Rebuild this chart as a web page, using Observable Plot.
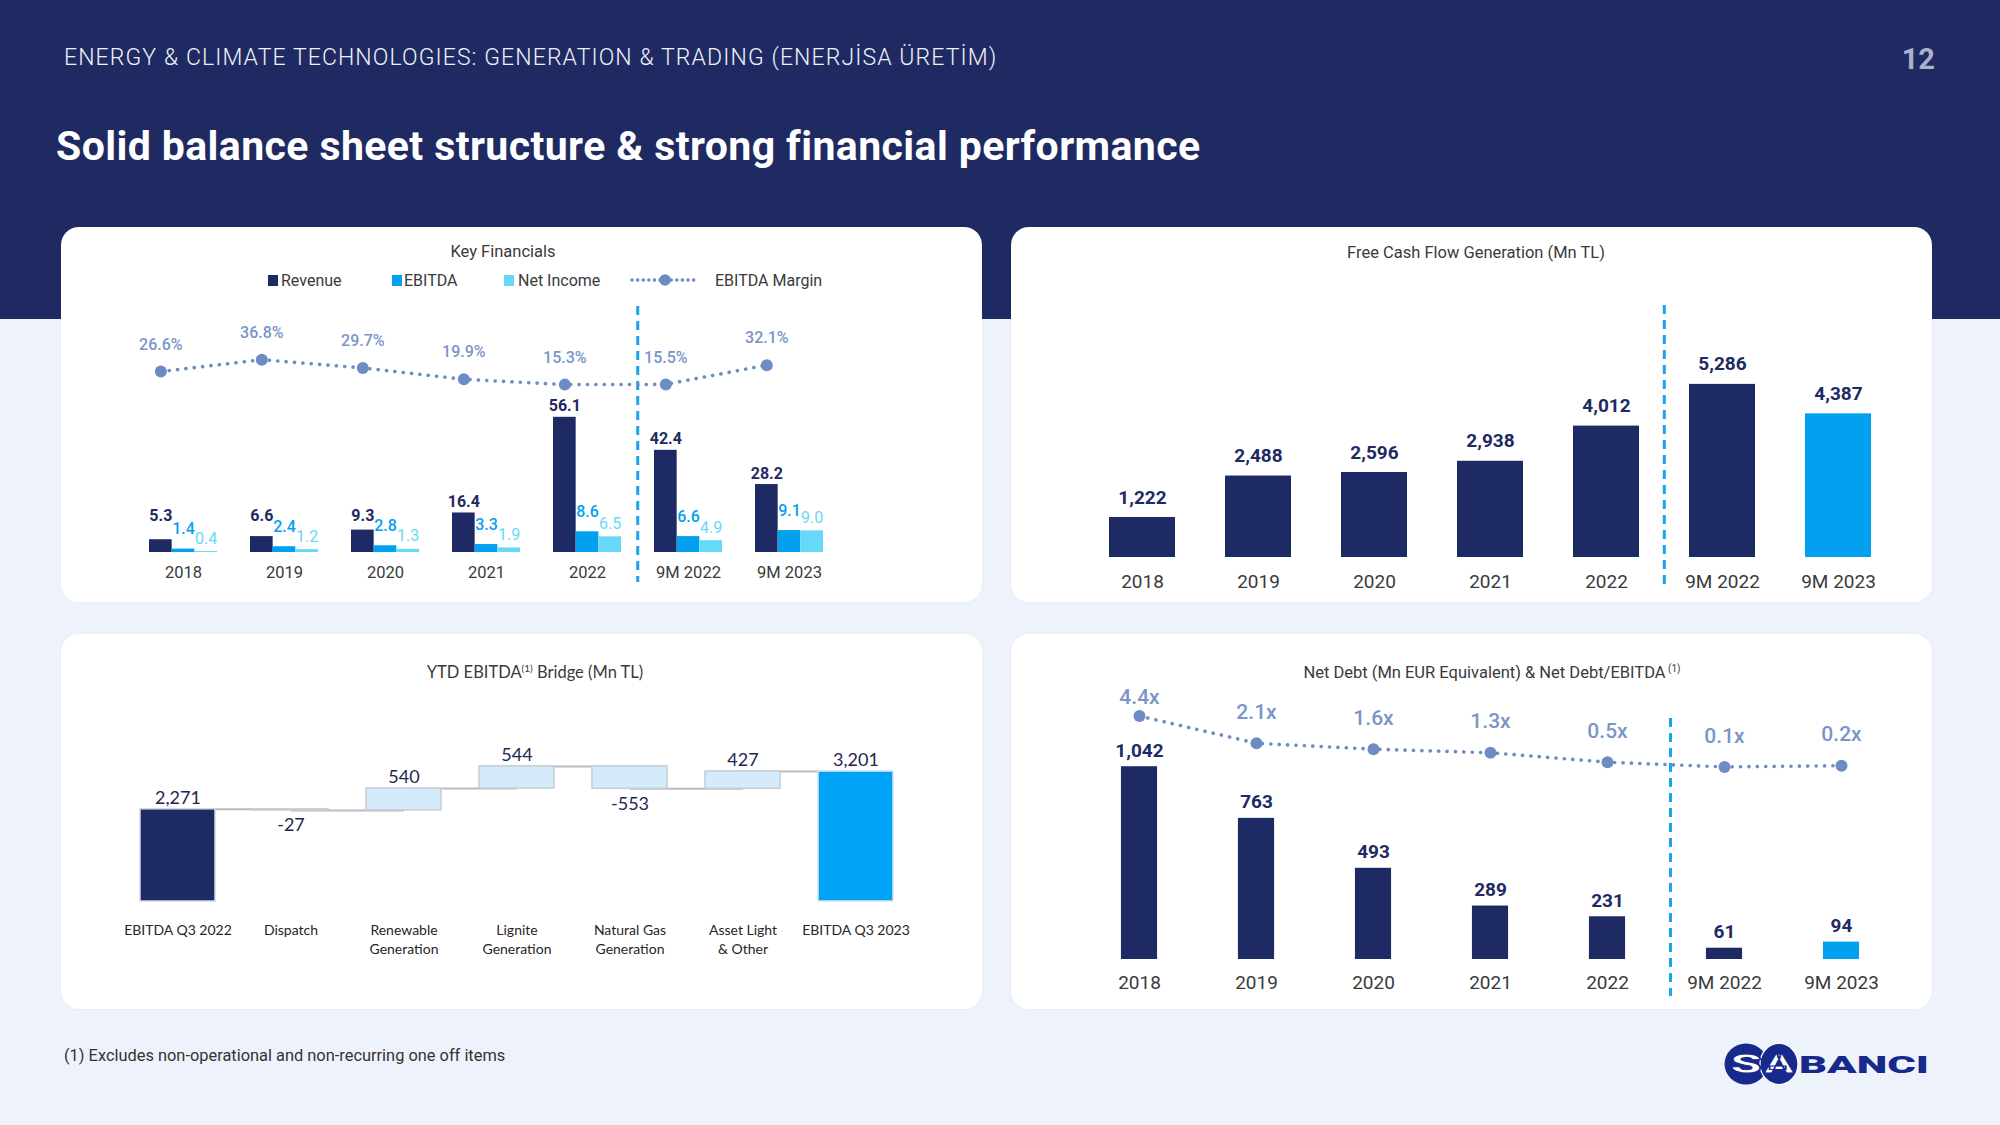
<!DOCTYPE html>
<html>
<head>
<meta charset="utf-8">
<script src="https://cdn.jsdelivr.net/npm/d3@7"></script>
<script src="https://cdn.jsdelivr.net/npm/@observablehq/plot@0.6"></script>
<style>
  html, body { margin: 0; padding: 0; }
  body { width: 2000px; height: 1125px; background: #eef3fb; font-family: Roboto, sans-serif; position: relative; overflow: hidden; }
  .abs { position: absolute; white-space: nowrap; }
  #hdr { position: absolute; left: 0; top: 0; width: 2000px; height: 319px; background: #1f2a62; }
  .panel { position: absolute; width: 921px; height: 375px; background: #fff; border-radius: 18px; overflow: hidden; box-shadow: 0 0 3px rgba(30,42,98,0.06); }
  .panel svg { position: absolute; left: 0; top: 0; }
  .ptitle { position: absolute; transform: translate(-50%, -50%); font-size: 16.5px; color: #3a3a3a; white-space: nowrap; z-index: 2; }
  .ptitle sup { font-size: 10px; vertical-align: 6px; line-height: 0; }
  .leg { position: absolute; top: 53px; transform: translateY(-50%); font-size: 16px; color: #3a3a3a; white-space: nowrap; z-index: 2; }
  .sq { position: absolute; width: 10px; height: 11px; top: 48px; z-index: 2; }
</style>
</head>
<body>
<div id="hdr"></div>
<div class="abs" style="left:64px;top:44px;font-size:23px;line-height:28px;color:#eef1f8;font-weight:300;letter-spacing:1.1px;">ENERGY &amp; CLIMATE TECHNOLOGIES: GENERATION &amp; TRADING (ENERJİSA ÜRETİM)</div>
<div class="abs" style="right:65px;top:42px;font-size:29px;line-height:34px;color:#a9b1cc;font-weight:bold;">12</div>
<div class="abs" style="left:56px;top:122px;font-size:41px;line-height:48px;color:#ffffff;font-weight:bold;letter-spacing:0.4px;">Solid balance sheet structure &amp; strong financial performance</div>

<div class="panel" id="p1" style="left:61px;top:227px;">
  <div class="ptitle" style="left:442px;top:24px;">Key Financials</div>
  <div class="sq" style="left:207px;background:#1e2a63;"></div>
  <div class="leg" style="left:220px;">Revenue</div>
  <div class="sq" style="left:331px;background:#03a0f0;"></div>
  <div class="leg" style="left:343px;">EBITDA</div>
  <div class="sq" style="left:443px;background:#66d9f9;"></div>
  <div class="leg" style="left:457px;">Net Income</div>
  <svg class="abs" style="left:568px;top:45px;z-index:2" width="72" height="16">
    <line x1="3" y1="8" x2="70" y2="8" stroke="#6d8cc4" stroke-width="3.5" stroke-linecap="round" stroke-dasharray="0.1,5.5"/>
    <circle cx="36" cy="8" r="5.8" fill="#6d8cc4"/>
  </svg>
  <div class="leg" style="left:654px;">EBITDA Margin</div>
</div>

<div class="panel" id="p2" style="left:1011px;top:227px;">
  <div class="ptitle" style="left:465px;top:25px;">Free Cash Flow Generation (Mn TL)</div>
</div>

<div class="panel" id="p3" style="left:61px;top:634px;">
  <div class="ptitle" style="left:474px;top:38px;font-family:Lato, sans-serif;">YTD EBITDA<sup>(1)</sup> Bridge (Mn TL)</div>
</div>

<div class="panel" id="p4" style="left:1011px;top:634px;">
  <div class="ptitle" style="left:481px;top:38px;">Net Debt (Mn EUR Equivalent) &amp; Net Debt/EBITDA<sup> (1)</sup></div>
</div>

<div class="abs" style="left:64px;top:1045px;font-size:16.4px;line-height:22px;color:#333;">(1) Excludes non-operational and non-recurring one off items</div>

<svg class="abs" style="left:1720px;top:1042px" width="214" height="46">
  <ellipse cx="26" cy="22" rx="21.5" ry="20.5" fill="#17298a"/>
  <ellipse cx="59" cy="22" rx="19" ry="20.5" fill="#17298a" stroke="#ffffff" stroke-width="1.2"/>
  <text x="26" y="31" text-anchor="middle" font-family="Roboto" font-weight="900" font-size="25" fill="#ffffff" stroke="#17298a" stroke-width="1" textLength="32" lengthAdjust="spacingAndGlyphs">S</text>
  <text x="59" y="31" text-anchor="middle" font-family="Roboto" font-weight="900" font-size="25" fill="#ffffff" stroke="#17298a" stroke-width="1" textLength="30" lengthAdjust="spacingAndGlyphs">A</text>
  <text x="79" y="31" font-family="Roboto" font-weight="900" font-size="24" fill="#17298a" textLength="130" lengthAdjust="spacingAndGlyphs">BANCI</text>
</svg>

<script>
// ---------------- DATA ----------------
const periods = ["2018", "2019", "2020", "2021", "2022", "9M 2022", "9M 2023"];

// Key Financials (bn TL) and EBITDA margin (%)
const kfRevenue   = [5.3, 6.6, 9.3, 16.4, 56.1, 42.4, 28.2];
const kfEbitda    = [1.4, 2.4, 2.8, 3.3, 8.6, 6.6, 9.1];
const kfNetIncome = [0.4, 1.2, 1.3, 1.9, 6.5, 4.9, 9.0];
const kfMargin    = [26.6, 36.8, 29.7, 19.9, 15.3, 15.5, 32.1];

// Free Cash Flow Generation (Mn TL)
const fcfValues = [1222, 2488, 2596, 2938, 4012, 5286, 4387];

// YTD EBITDA Bridge (Mn TL)
const bridgeLabels = ["EBITDA Q3 2022", "Dispatch", "Renewable\nGeneration", "Lignite\nGeneration", "Natural Gas\nGeneration", "Asset Light\n& Other", "EBITDA Q3 2023"];
const bridgeValues = [2271, -27, 540, 544, -553, 427, 3201];
const bridgeKinds  = ["start", "delta", "delta", "delta", "delta", "delta", "end"];

// Net Debt (Mn EUR) & Net Debt / EBITDA (x)
const ndValues = [1042, 763, 493, 289, 231, 61, 94];
const ndRatio  = [4.4, 2.1, 1.6, 1.3, 0.5, 0.1, 0.2];

// ---------------- STYLE ----------------
const NAVY = "#1e2a63", BLUE = "#03a0f0", CYAN = "#66d9f9", LINEC = "#6d8cc4", LINET = "#7a95c8";
const DIV = "#1aa3ef", AXT = "#3a3a3a";
const DOTS = {strokeWidth: 3.6, strokeLinecap: "round", strokeDasharray: "0.1,8.3"};
const highlight = "9M 2023", splitAt = "9M 2022";
const f1 = d3.format(".1f");
const fc = d3.formatLocale({decimal: ".", thousands: ",", grouping: [3], currency: ["", ""], minus: "-"}).format(",");

function band(domain, left, right, pad) {
  return d3.scaleBand().domain(domain).range([left, right]).padding(pad);
}

// ---------------- PANEL 1: Key Financials ----------------
{
  const W = 921, H = 375, mL = 53, mR = 124, mT = 84, mB = 50, pad = 0.33;
  const b = band(periods, mL, W - mR, pad);
  const sub = b.bandwidth() / 3, step = b.step();
  const rows = periods.map((p, i) => ({p, rev: kfRevenue[i], ebitda: kfEbitda[i], ni: kfNetIncome[i], margin: kfMargin[i]}));
  // secondary (margin %) axis expressed on the bar axis
  const mY = m => 62.3 + 0.481 * m;
  const chart = Plot.plot({
    width: W, height: H, marginLeft: mL, marginRight: mR, marginTop: mT, marginBottom: mB,
    x: {domain: periods, padding: pad, axis: null},
    y: {domain: [0, 100], axis: null},
    style: {background: "transparent", fontFamily: "Roboto, sans-serif", overflow: "visible"},
    marks: [
      Plot.ruleX([splitAt], {x: d => d, dx: -step / 2, stroke: DIV, strokeWidth: 3, strokeDasharray: "9,6", insetTop: -5, insetBottom: -30}),
      Plot.barY(rows, {x: "p", y: "rev", fill: NAVY, insetRight: 2 * sub}),
      Plot.barY(rows, {x: "p", y: "ebitda", fill: BLUE, insetLeft: sub, insetRight: sub}),
      Plot.barY(rows, {x: "p", y: "ni", fill: CYAN, insetLeft: 2 * sub}),
      Plot.line(rows, {x: "p", y: d => mY(d.margin), dx: -sub, stroke: LINEC, ...DOTS}),
      Plot.dot(rows, {x: "p", y: d => mY(d.margin), dx: -sub, r: 6, fill: LINEC}),
      Plot.text(rows, {x: "p", y: d => mY(d.margin), dx: -sub, dy: -27, text: d => f1(d.margin) + "%", fill: LINET, fontSize: 16, fontWeight: 500}),
      Plot.text(rows, {x: "p", y: d => Math.max(d.rev, 10.5), dx: -sub, dy: -11, text: d => f1(d.rev), fill: NAVY, fontSize: 16, fontWeight: "bold"}),
      Plot.text(rows, {x: "p", y: "ebitda", dy: -20, text: d => f1(d.ebitda), fill: BLUE, fontSize: 16, fontWeight: 500}),
      Plot.text(rows, {x: "p", y: "ni", dx: sub, dy: -13, text: d => f1(d.ni), fill: CYAN, fontSize: 16}),
      Plot.text(periods, {x: d => d, frameAnchor: "bottom", dy: 25, text: d => d, fill: AXT, fontSize: 16.5})
    ]
  });
  document.getElementById("p1").appendChild(chart);
}

// ---------------- PANEL 2: Free Cash Flow ----------------
{
  const W = 921, H = 375, mL = 46, mR = 10, mT = 68, mB = 45, pad = 0.433;
  const b = band(periods, mL, W - mR, pad);
  const step = b.step();
  const rows = periods.map((p, i) => ({p, v: fcfValues[i]}));
  const chart = Plot.plot({
    width: W, height: H, marginLeft: mL, marginRight: mR, marginTop: mT, marginBottom: mB,
    x: {domain: periods, padding: pad, axis: null},
    y: {domain: [0, 8000], axis: null},
    style: {background: "transparent", fontFamily: "Roboto, sans-serif", overflow: "visible"},
    marks: [
      Plot.ruleX([splitAt], {x: d => d, dx: -step / 2, stroke: DIV, strokeWidth: 3, strokeDasharray: "9,6", insetTop: 10, insetBottom: -30}),
      Plot.barY(rows.filter(d => d.p !== highlight), {x: "p", y: "v", fill: NAVY}),
      Plot.barY(rows.filter(d => d.p === highlight), {x: "p", y: "v", fill: BLUE}),
      Plot.text(rows, {x: "p", y: "v", dy: -20, text: d => fc(d.v), fill: NAVY, fontSize: 19, fontWeight: "bold"}),
      Plot.text(periods, {x: d => d, frameAnchor: "bottom", dy: 30, text: d => d, fill: AXT, fontSize: 19})
    ]
  });
  document.getElementById("p2").appendChild(chart);
}

// ---------------- PANEL 3: EBITDA Bridge ----------------
{
  const W = 921, H = 375, mL = 40, mR = 50, mT = 64, mB = 108, pad = 0.337;
  let run = 0;
  const rows = bridgeLabels.map((c, i) => {
    const k = bridgeKinds[i], v = bridgeValues[i];
    let y1, y2;
    if (k === "delta") { y1 = run; y2 = run + v; run = y2; }
    else { y1 = 0; y2 = v; run = v; }
    return {c, k, v, y1, y2, top: Math.max(y1, y2), bot: Math.min(y1, y2), level: run};
  });
  const links = rows.slice(0, -1).map((r, i) => ({from: r.c, to: rows[i + 1].c, level: r.level}));
  const chart = Plot.plot({
    width: W, height: H, marginLeft: mL, marginRight: mR, marginTop: mT, marginBottom: mB,
    x: {domain: bridgeLabels, padding: pad, axis: null},
    y: {domain: [0, 5000], axis: null},
    style: {background: "transparent", fontFamily: "Lato, sans-serif", overflow: "visible"},
    marks: [
      Plot.link(links, {x1: "from", x2: "to", y1: "level", y2: "level", stroke: "#b9bcc2", strokeWidth: 2}),
      Plot.barY(rows.filter(d => d.k === "start"), {x: "c", y1: "y1", y2: "y2", fill: NAVY, stroke: "#d5d9e3", strokeWidth: 1.5}),
      Plot.barY(rows.filter(d => d.k === "delta"), {x: "c", y1: "y1", y2: "y2", fill: "#d3ebfb", stroke: "#c6cdd6", strokeWidth: 1.5}),
      Plot.barY(rows.filter(d => d.k === "end"), {x: "c", y1: "y1", y2: "y2", fill: "#00a2f5", stroke: "#d5e6f3", strokeWidth: 1.5}),
      Plot.text(rows.filter(d => d.v >= 0), {x: "c", y: "top", dy: -11, text: d => fc(d.v), fill: "#1e2750", fontSize: 18}),
      Plot.text(rows.filter(d => d.v < 0), {x: "c", y: "bot", dy: 15, text: d => fc(d.v), fill: "#1e2750", fontSize: 18}),
      Plot.text(bridgeLabels, {x: d => d, frameAnchor: "bottom", dy: 21, lineAnchor: "top", lineHeight: 1.3, text: d => d, fill: "#262626", fontSize: 14})
    ]
  });
  document.getElementById("p3").appendChild(chart);
}

// ---------------- PANEL 4: Net Debt ----------------
{
  const W = 921, H = 375, mL = 44, mR = 7, mT = 66, mB = 50, pad = 0.433;
  const b = band(periods, mL, W - mR, pad);
  const step = b.step(), ins = (b.bandwidth() - 36.5) / 2;
  const rows = periods.map((p, i) => ({p, v: ndValues[i], r: ndRatio[i]}));
  // secondary (Net Debt/EBITDA) axis expressed on the bar axis
  const rY = r => 1034.6 + 63.9 * r;
  const chart = Plot.plot({
    width: W, height: H, marginLeft: mL, marginRight: mR, marginTop: mT, marginBottom: mB,
    x: {domain: periods, padding: pad, axis: null},
    y: {domain: [0, 1400], axis: null},
    style: {background: "transparent", fontFamily: "Roboto, sans-serif", overflow: "visible"},
    marks: [
      Plot.ruleX([splitAt], {x: d => d, dx: -step / 2 + 4.5, stroke: DIV, strokeWidth: 3, strokeDasharray: "9,6", insetTop: 18, insetBottom: -37}),
      Plot.barY(rows.filter(d => d.p !== highlight), {x: "p", y: "v", fill: NAVY, insetLeft: ins, insetRight: ins}),
      Plot.barY(rows.filter(d => d.p === highlight), {x: "p", y: "v", fill: BLUE, insetLeft: ins, insetRight: ins}),
      Plot.line(rows, {x: "p", y: d => rY(d.r), stroke: LINEC, ...DOTS}),
      Plot.dot(rows, {x: "p", y: d => rY(d.r), r: 6, fill: LINEC}),
      Plot.text(rows.slice(0, 1), {x: "p", y: d => rY(d.r), dy: -19, text: d => f1(d.r) + "x", fill: LINET, fontSize: 21, fontWeight: 500}),
      Plot.text(rows.slice(1), {x: "p", y: d => rY(d.r), dy: -31, text: d => f1(d.r) + "x", fill: LINET, fontSize: 21, fontWeight: 500}),
      Plot.text(rows, {x: "p", y: "v", dy: -16, text: d => fc(d.v), fill: NAVY, fontSize: 19, fontWeight: "bold"}),
      Plot.text(periods, {x: d => d, frameAnchor: "bottom", dy: 29, text: d => d, fill: AXT, fontSize: 19})
    ]
  });
  document.getElementById("p4").appendChild(chart);
}
</script>
</body>
</html>
